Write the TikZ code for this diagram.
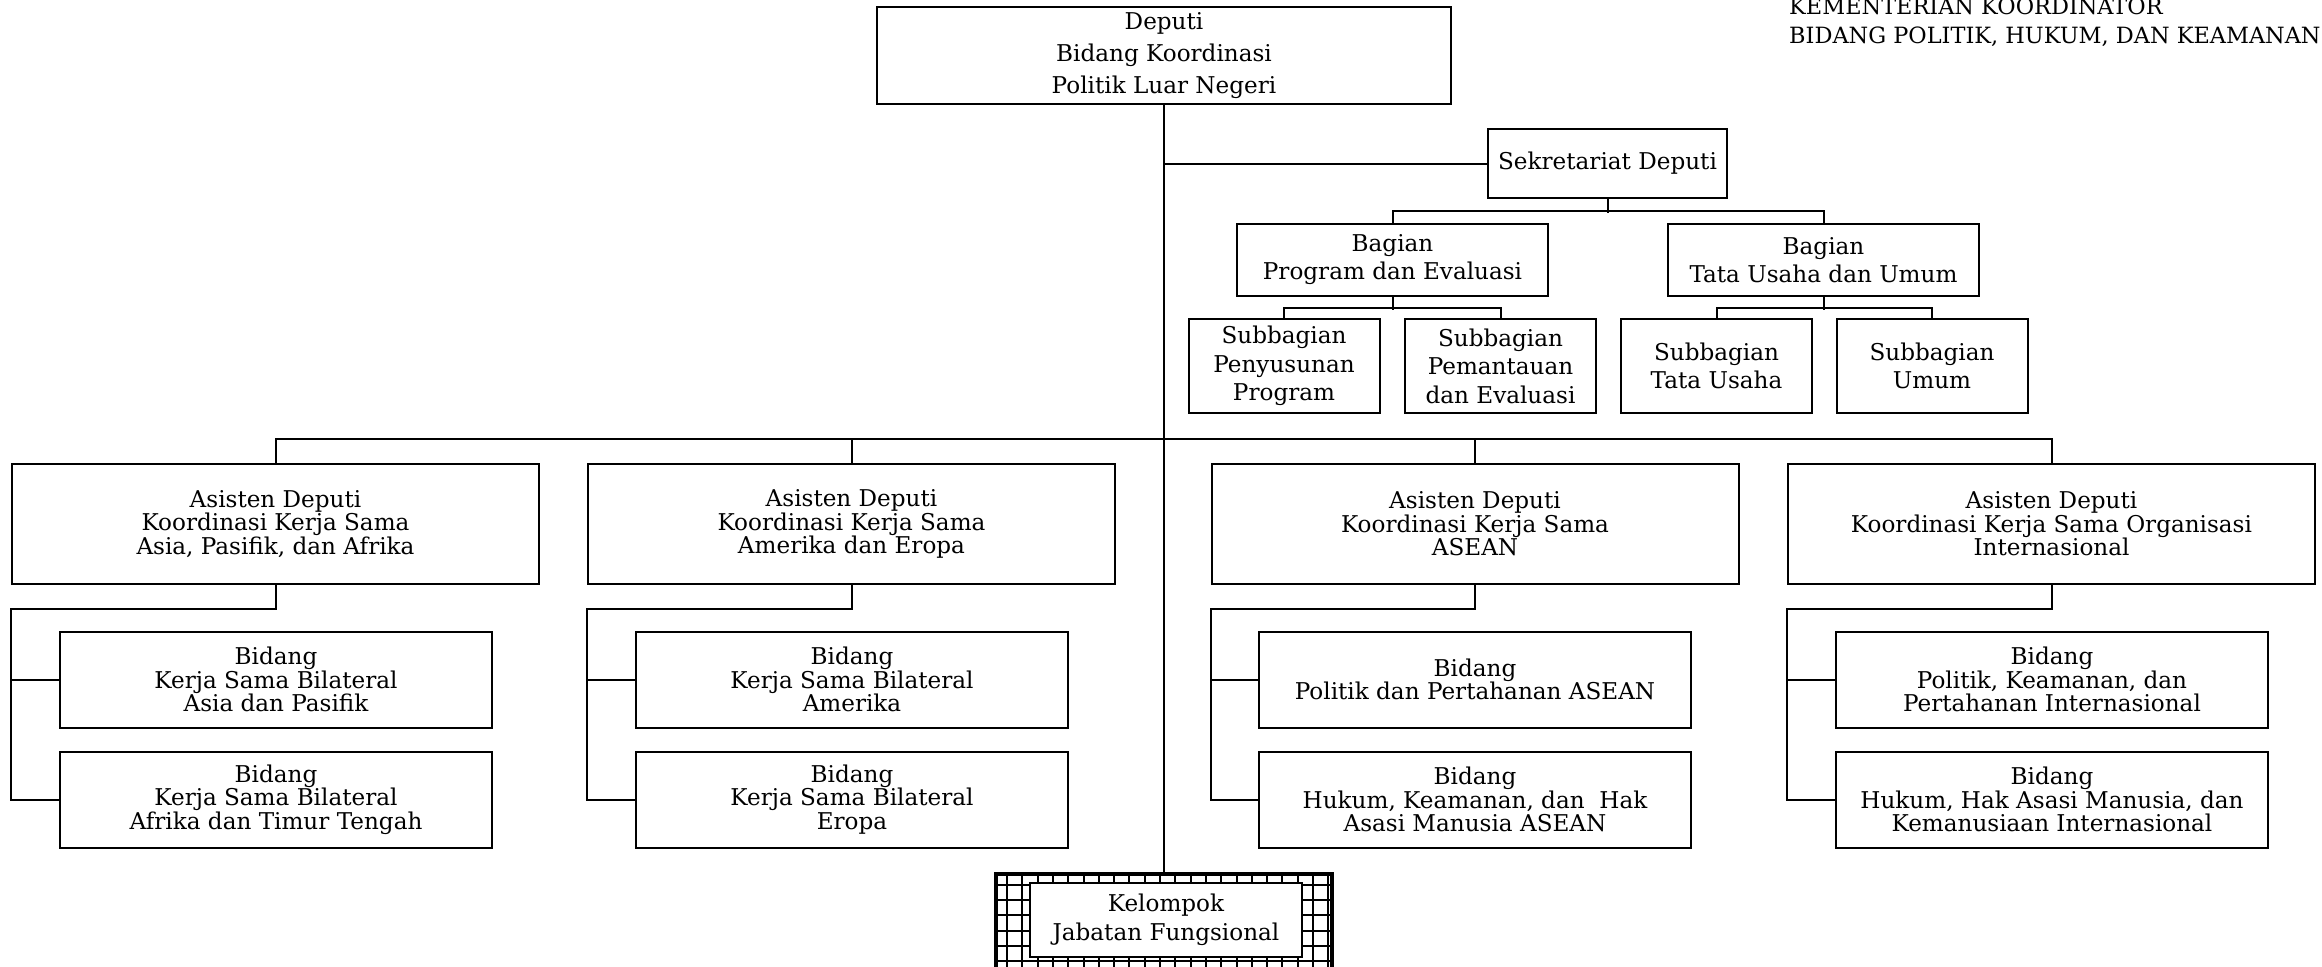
\documentclass[tikz,border=0pt]{standalone}
\usepackage{fontspec}
\setmainfont{DejaVu Serif}
\begin{document}
\begin{tikzpicture}[x=1bp,y=-1bp,
  conn/.style={line width=2bp},
  boxbase/.style={draw, line width=2bp, inner sep=0pt, align=center},
  topbox/.style={boxbase, font=\fontsize{23.2}{32}\selectfont},
  midbox/.style={boxbase, font=\fontsize{23.2}{28}\selectfont},
  subbox/.style={boxbase, font=\fontsize{23.2}{28.6}\selectfont, minimum width=191bp, minimum height=94bp},
  asbox/.style={boxbase, font=\fontsize{23.2}{23.7}\selectfont, minimum width=527bp, minimum height=120bp},
  bidbox/.style={boxbase, font=\fontsize{23.2}{23.7}\selectfont, minimum width=432bp, minimum height=96bp},
  titletext/.style={inner sep=0pt, font=\fontsize{22.5}{24}\selectfont},
  gridline/.style={line width=2bp}
]
\useasboundingbox (0,0) rectangle (2322,966);
\clip (0,0) rectangle (2322,966);

% title
\node[titletext, anchor=base west] (t1) at (1789,14) {KEMENTERIAN KOORDINATOR};
\node[titletext, anchor=base west] (t2) at (1789,43) {BIDANG POLITIK, HUKUM, DAN KEAMANAN};

% top part
\node[topbox, minimum width=574bp, minimum height=97bp] (dep) at (1164,55.5) {Deputi\\Bidang Koordinasi\\Politik Luar Negeri};
\node[midbox, minimum width=239bp, minimum height=69bp] (sek) at (1607.5,163.5) {Sekretariat Deputi};
\node[midbox, minimum width=311bp, minimum height=72bp] (bagP) at (1392.5,260) {Bagian\\Program dan Evaluasi};
\node[midbox, minimum width=311bp, minimum height=72bp] (bagT) at (1823.5,260) {Bagian\\Tata Usaha dan Umum};
\node[subbox] (sP) at (1284,366) {Subbagian\\Penyusunan\\Program};
\node[subbox] (sE) at (1500.5,366) {Subbagian\\Pemantauan\\dan Evaluasi};
\node[subbox] (sT) at (1716.5,366) {Subbagian\\Tata Usaha};
\node[subbox] (sU) at (1932,366) {Subbagian\\Umum};

% asisten deputi
\node[asbox] (a1) at (275.5,524) {Asisten Deputi\\Koordinasi Kerja Sama\\Asia, Pasifik, dan Afrika};
\node[asbox] (a2) at (851.5,524) {Asisten Deputi\\Koordinasi Kerja Sama\\Amerika dan Eropa};
\node[asbox] (a3) at (1475,524) {Asisten Deputi\\Koordinasi Kerja Sama\\ASEAN};
\node[asbox] (a4) at (2051.5,524) {Asisten Deputi\\Koordinasi Kerja Sama Organisasi\\Internasional};

% bidang
\node[bidbox] (b11) at (276,679.5) {Bidang\\Kerja Sama Bilateral\\Asia dan Pasifik};
\node[bidbox] (b12) at (276,799.5) {Bidang\\Kerja Sama Bilateral\\Afrika dan Timur Tengah};
\node[bidbox] (b21) at (852,679.5) {Bidang\\Kerja Sama Bilateral\\Amerika};
\node[bidbox] (b22) at (852,799.5) {Bidang\\Kerja Sama Bilateral\\Eropa};
\node[bidbox] (b31) at (1475,679.5) {Bidang\\Politik dan Pertahanan ASEAN};
\node[bidbox] (b32) at (1475,799.5) {Bidang\\Hukum, Keamanan, dan~ Hak\\Asasi Manusia ASEAN};
\node[bidbox] (b41) at (2052,679.5) {Bidang\\Politik, Keamanan, dan\\Pertahanan Internasional};
\node[bidbox] (b42) at (2052,799.5) {Bidang\\Hukum, Hak Asasi Manusia, dan\\Kemanusiaan Internasional};

% kelompok jabatan fungsional
\node[draw, line width=3.5bp, inner sep=0pt, minimum width=336bp, minimum height=120bp, anchor=north,
  path picture={
    \foreach \i in {0,...,21} {
      \draw[gridline] ([xshift=11bp+\i*15.3bp]path picture bounding box.north west) -- ([xshift=11bp+\i*15.3bp]path picture bounding box.south west);
    }
    \foreach \j in {0,...,6} {
      \draw[gridline] ([yshift=-11bp-\j*15.3bp]path picture bounding box.north west) -- ([yshift=-11bp-\j*15.3bp]path picture bounding box.north east);
    }
  }] (kelout) at (1164,872) {};
\node[draw, fill=white, line width=2.5bp, inner sep=0pt, align=center, minimum width=272bp, minimum height=74bp,
  font=\fontsize{23.2}{29}\selectfont] (kel) at (1166,920) {Kelompok\\Jabatan Fungsional};

% connectors
\draw[conn] (dep.south) -- (kelout.north);
\draw[conn] (sek.west) -- (sek.west -| dep.south);
\draw[conn] (sek.south) -- ++(0,13.5);
\draw[conn] (bagP.north) -- ++(0,-12) -| (bagT.north);
\draw[conn] (bagP.south) -- ++(0,13);
\draw[conn] (sP.north) -- ++(0,-10) -| (sE.north);
\draw[conn] (bagT.south) -- ++(0,13);
\draw[conn] (sT.north) -- ++(0,-10) -| (sU.north);
\draw[conn] (a1.north) -- ++(0,-24) -| (a4.north);
\draw[conn] (a2.north) -- ++(0,-24);
\draw[conn] (a3.north) -- ++(0,-24);
\foreach \k in {1,2,3,4} {
  \draw[conn] (a\k.south) -- ++(0,24) -| (b\k2.west -| a\k.west) -- (b\k2.west);
  \draw[conn] (b\k1.west) -- (b\k1.west -| a\k.west);
}
\end{tikzpicture}
\end{document}
